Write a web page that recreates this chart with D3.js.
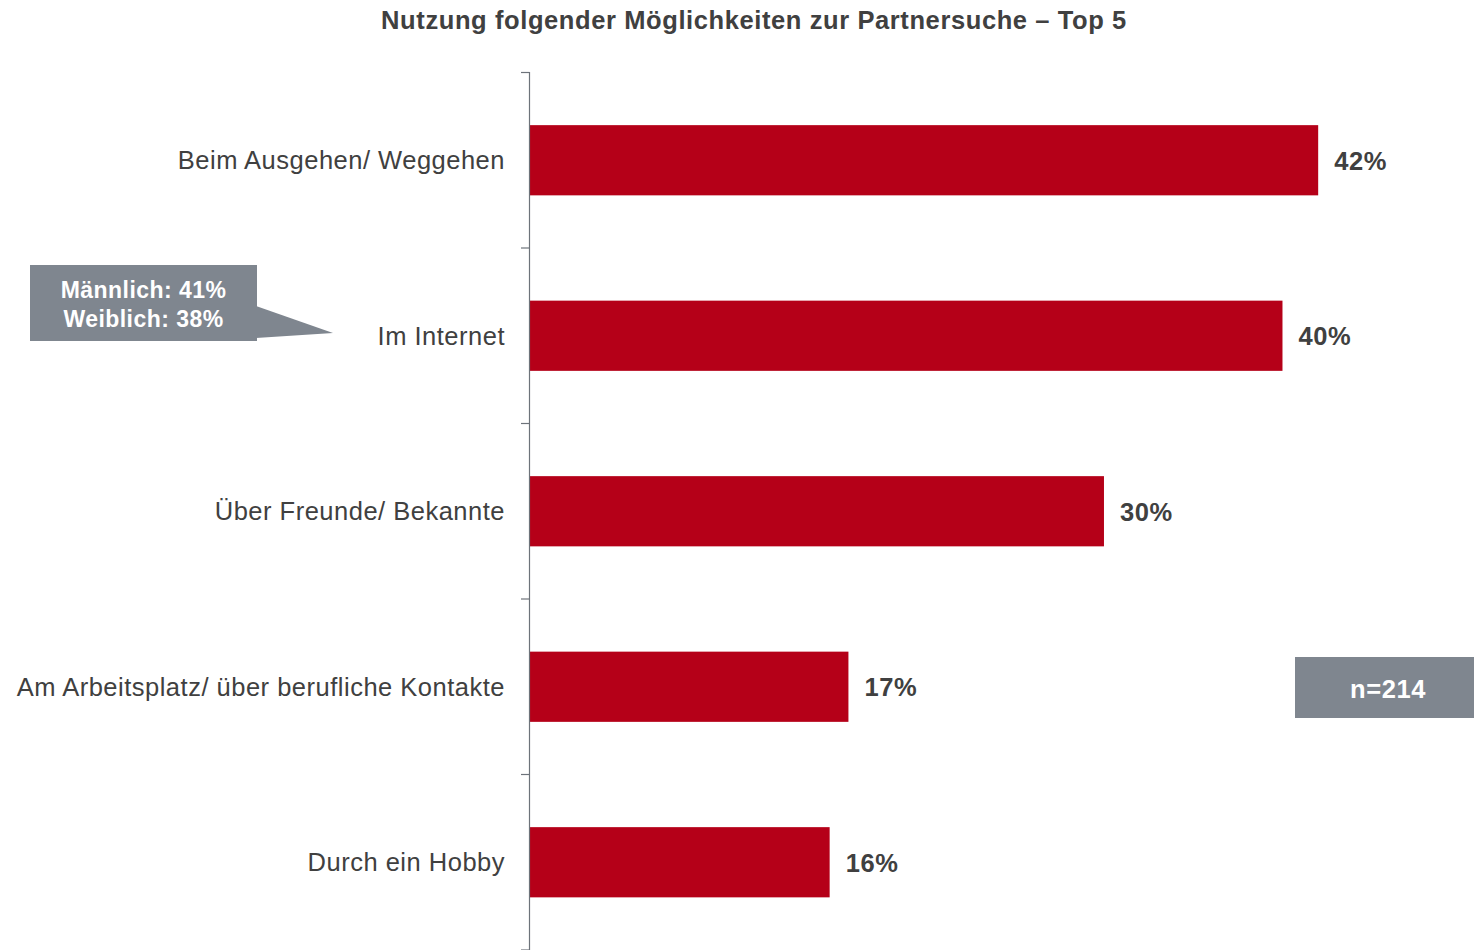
<!DOCTYPE html>
<html>
<head>
<meta charset="utf-8">
<script src="https://cdn.jsdelivr.net/npm/d3@7"></script>
<style>
  body { margin: 0; background: #fff; }
  svg { display: block; font-family: "Liberation Sans", Arial, sans-serif; }
</style>
</head>
<body>
<svg id="chart" width="1474" height="950"></svg>
<script>
const categories = [
  "Beim Ausgehen/ Weggehen",
  "Im Internet",
  "Über Freunde/ Bekannte",
  "Am Arbeitsplatz/ über berufliche Kontakte",
  "Durch ein Hobby"
];
const values = [42, 40.1, 30.6, 17, 16];
const valueLabels = ["42%", "40%", "30%", "17%", "16%"];
const title = "Nutzung folgender Möglichkeiten zur Partnersuche – Top 5";
const calloutLines = ["Männlich: 41%", "Weiblich: 38%"];
const sampleNote = "n=214";

const svg = d3.select("#chart");
const textColor = "#404040";
const barColor = "#b50018";
const boxColor = "#7f868f";

const x = d3.scaleLinear().domain([0, 50]).range([529, 1468.5]);
const y = d3.scaleBand().domain(categories).range([72.5, 950]).paddingInner(0.6).paddingOuter(0.3);

// title
svg.append("text")
  .attr("x", 754).attr("y", 29)
  .attr("text-anchor", "middle")
  .attr("font-size", 25.5).attr("font-weight", "bold")
  .attr("letter-spacing", 0.6)
  .attr("fill", textColor)
  .text(title);

// bars
svg.selectAll("rect.bar").data(categories).enter().append("rect")
  .attr("class", "bar")
  .attr("x", x(0))
  .attr("y", d => y(d))
  .attr("width", (d, i) => x(values[i]) - x(0))
  .attr("height", y.bandwidth())
  .attr("fill", barColor);

// value labels
svg.selectAll("text.val").data(categories).enter().append("text")
  .attr("class", "val")
  .attr("x", (d, i) => x(values[i]) + 16)
  .attr("y", d => y(d) + y.bandwidth() / 2 + 9.3)
  .attr("font-size", 25.5).attr("font-weight", "bold")
  .attr("letter-spacing", 0.6)
  .attr("fill", textColor)
  .text((d, i) => valueLabels[i]);

// category labels
svg.selectAll("text.cat").data(categories).enter().append("text")
  .attr("class", "cat")
  .attr("x", 505)
  .attr("y", d => y(d) + y.bandwidth() / 2 + 8.8)
  .attr("text-anchor", "end")
  .attr("font-size", 25.5)
  .attr("letter-spacing", 0.5)
  .attr("fill", textColor)
  .text(d => d);

// axis line and ticks
const tickYs = d3.range(categories.length + 1).map(i => 72.5 + i * (877.5 / categories.length));
svg.append("line")
  .attr("x1", 529.5).attr("x2", 529.5)
  .attr("y1", 72).attr("y2", 950)
  .attr("stroke", "#6d737a").attr("stroke-width", 1.2);
svg.selectAll("line.tick").data(tickYs).enter().append("line")
  .attr("class", "tick")
  .attr("x1", 521).attr("x2", 529.5)
  .attr("y1", d => d).attr("y2", d => d)
  .attr("stroke", "#6d737a").attr("stroke-width", 1.2);

// callout with pointer
svg.append("path")
  .attr("d", "M256,306 L333,333 L256,338 Z")
  .attr("fill", boxColor);
svg.append("rect")
  .attr("x", 30).attr("y", 265).attr("width", 227).attr("height", 76)
  .attr("fill", boxColor);
svg.selectAll("text.callout").data(calloutLines).enter().append("text")
  .attr("class", "callout")
  .attr("x", 143.5)
  .attr("y", (d, i) => 297.5 + i * 29)
  .attr("text-anchor", "middle")
  .attr("font-size", 23).attr("font-weight", "bold")
  .attr("letter-spacing", 0.45)
  .attr("fill", "#fff")
  .text(d => d);

// sample box
svg.append("rect")
  .attr("x", 1295).attr("y", 657).attr("width", 179).attr("height", 61)
  .attr("fill", boxColor);
svg.append("text")
  .attr("x", 1388).attr("y", 697.5)
  .attr("text-anchor", "middle")
  .attr("font-size", 25.5).attr("font-weight", "bold")
  .attr("letter-spacing", 0.55)
  .attr("fill", "#fff")
  .text(sampleNote);
</script>
</body>
</html>
